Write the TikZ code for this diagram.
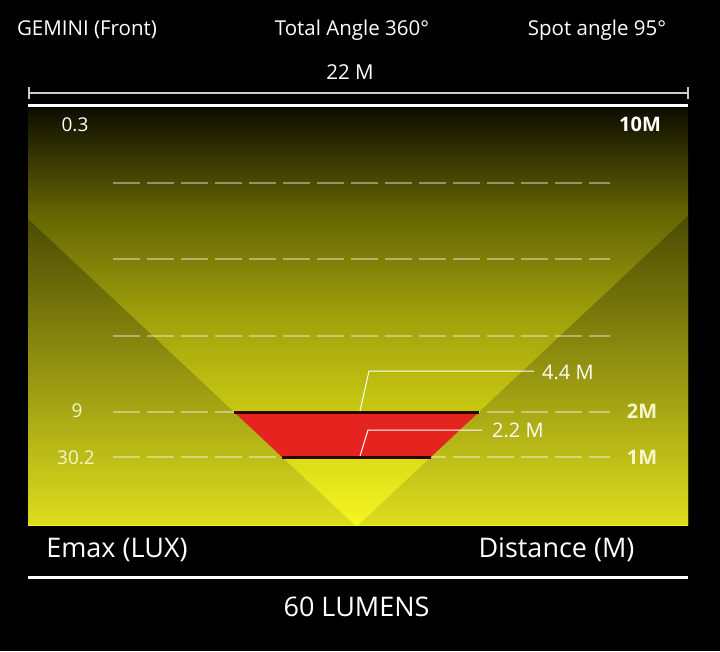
\documentclass[tikz,border=0pt]{standalone}
\usepackage{fontspec}
\setmainfont{Open Sans}
\definecolor{ytop}{HTML}{0D0D00}
\definecolor{yup}{HTML}{646404}
\definecolor{ymid}{HTML}{A0A00C}
\definecolor{ylow}{HTML}{CDCD14}
\definecolor{ybot}{HTML}{F6F622}
\definecolor{redfill}{HTML}{E52420}
\definecolor{rededge}{HTML}{2A0800}
\definecolor{lbl}{HTML}{F6F6CC}
\pgfdeclareverticalshading{beam}{100bp}{color(0bp)=(ybot); color(25bp)=(ybot); color(37.5bp)=(ylow); color(50bp)=(ymid); color(62.5bp)=(yup); color(75bp)=(ytop); color(100bp)=(ytop)}
\begin{document}
\begin{tikzpicture}[x=1pt,y=-1pt,
  txt/.style={inner sep=0pt,text=white,anchor=base},
  toptxt/.style={txt,font=\fontsize{20.5}{24}\selectfont},
  bigtxt/.style={txt,font=\fontsize{27}{31}\selectfont},
  axlbl/.style={txt,text=lbl,font=\fontsize{19}{22}\selectfont},
  axbold/.style={axlbl,font=\fontsize{20}{23}\selectfont\bfseries},
  gridline/.style={white,opacity=0.4,line width=1.5pt,dash pattern=on 27pt off 7pt},
  whiterule/.style={white,line width=3pt},
  dimline/.style={gray!40!white,line width=1.5pt},
  leader/.style={white,line width=1pt},
  edgeline/.style={rededge,line width=3pt}]
\useasboundingbox (0,0) rectangle (720,651);
\fill[black] (0,0) rectangle (720,651);
% beam area
\shade[shading=beam] (28,108) rectangle (688,525);
\shade[top color=yup!75!black, bottom color=ybot!90!black] (28,219) -- (354.5,525) -- (28,525) -- cycle;
\shade[top color=yup!75!black, bottom color=ybot!90!black] (688,216) -- (358.5,525) -- (688,525) -- cycle;
% grid lines
\foreach \yy in {183,259,336,412,457} \draw[gridline] (113,\yy) -- (610,\yy);
% red zone
\fill[redfill] (234,412) -- (479,412) -- (431,457) -- (282,457) -- cycle;
\draw[edgeline] (234,412) -- (479,412);
\draw[edgeline] (282,457) -- (431,457);
% rules
\draw[dimline] (29,93) -- (688,93);
\draw[dimline] (29,87) -- (29,99);
\draw[dimline] (688,87) -- (688,99);
\draw[whiterule] (28,105) -- (688,105);
\draw[whiterule] (28,577) -- (688,577);
% texts
\node[toptxt] (gem) at (87,35) {GEMINI (Front)};
\node[toptxt] (tot) at (352,35) {Total Angle 360°};
\node[toptxt] (spot) at (597,35) {Spot angle 95°};
\node[toptxt] (w22) at (350,79) {22 M};
\node[axlbl,text=white] (e03) at (75,131) {0.3};
\node[axbold,text=white] (d10) at (640,131) {10M};
\node[axlbl] (e9) at (77,417) {9};
\node[axlbl] (e302) at (76,464) {30.2};
\node[axbold] (d2) at (642,418) {2M};
\node[axbold] (d1) at (642,464) {1M};
\node[axlbl,anchor=base west,text=white,font=\fontsize{20}{23}\selectfont] (l44) at (542,379) {4.4 M};
\node[axlbl,anchor=base west,text=white,font=\fontsize{20}{23}\selectfont] (l22) at (492,437) {2.2 M};
\node[bigtxt] (emax) at (117,557) {Emax (LUX)};
\node[bigtxt] (dist) at (556.5,557) {Distance (M)};
\node[bigtxt] (lum) at (356.5,616) {60 LUMENS};
% leaders
\coordinate (a44) at (360,411);
\coordinate (b44) at (369,371);
\coordinate (a22) at (360,456);
\coordinate (b22) at (368,430);
\draw[leader] (a44) -- (b44) -- ([xshift=-8pt]b44 -| l44.west);
\draw[leader] (a22) -- (b22) -- ([xshift=-10pt]b22 -| l22.west);
\end{tikzpicture}
\end{document}
